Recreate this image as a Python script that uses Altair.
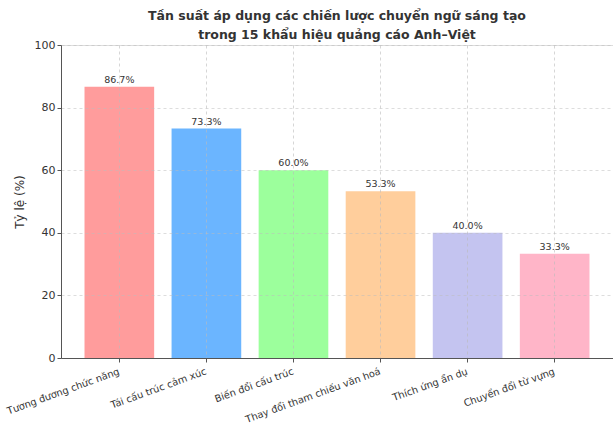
import altair as alt
import pandas as pd

categories = ["Tương đương chức năng", "Tái cấu trúc cảm xúc", "Biến đổi cấu trúc",
              "Thay đổi tham chiếu văn hoá", "Thích ứng ẩn dụ", "Chuyển đổi từ vựng"]
values = [86.7, 73.3, 60.0, 53.3, 40.0, 33.3]
colors = ["#ff9999", "#66b3ff", "#99ff99", "#ffcc99", "#c2c2f0", "#ffb3c6"]

df = pd.DataFrame({"cat": categories, "val": values})
df["label"] = [f"{v:.1f}%" for v in values]

FONT = "DejaVu Sans"

x = alt.X("cat:N", sort=categories, title=None,
          scale=alt.Scale(paddingInner=0.2, paddingOuter=0.27),
          axis=alt.Axis(labelAngle=-20, labelAlign="right", labelBaseline="top",
                        labelFontSize=9.8, labelColor="#333", labelOffset=-2,
                        labelPadding=4, grid=True, gridDash=[3, 3], gridColor="#bbbbbb",
                        gridOpacity=0.6, zindex=1,
                        domainColor="#555", tickColor="#555", tickSize=4, labelLimit=300))
y = alt.Y("val:Q", title="Tỷ lệ (%)",
          scale=alt.Scale(domain=[0, 100], nice=False),
          axis=alt.Axis(values=[0, 20, 40, 60, 80, 100], labelFontSize=11, labelColor="#333",
                        titleFontSize=12, titleFontWeight="normal", titleColor="#333",
                        grid=True, gridDash=[3, 3], gridColor="#bbbbbb", gridOpacity=0.5,
                        zindex=1,
                        domainColor="#555", tickColor="#555", tickSize=4, titlePadding=8))

bars = alt.Chart(df).mark_bar(opacity=0.97).encode(
    x=x, y=y,
    color=alt.Color("cat:N", sort=categories,
                    scale=alt.Scale(domain=categories, range=colors), legend=None),
)
text = alt.Chart(df).mark_text(baseline="bottom", dy=-2, fontSize=9.5, color="#333", font=FONT).encode(
    x=alt.X("cat:N", sort=categories), y="val:Q", text="label:N"
)

chart = (bars + text).properties(
    width=552, height=313,
    title=alt.TitleParams(["Tần suất áp dụng các chiến lược chuyển ngữ sáng tạo",
                           "trong 15 khẩu hiệu quảng cáo Anh–Việt"],
                          fontSize=12.5, fontWeight="bold", font=FONT, color="#333",
                          anchor="middle", offset=-2, lineHeight=19),
    padding={"left": 5, "top": 9, "right": 0, "bottom": 0},
).configure_view(stroke=None).configure(font=FONT).configure_axis(labelFont=FONT, titleFont=FONT)

chart.save("out.html", embed_options={"renderer": "svg", "actions": False})
